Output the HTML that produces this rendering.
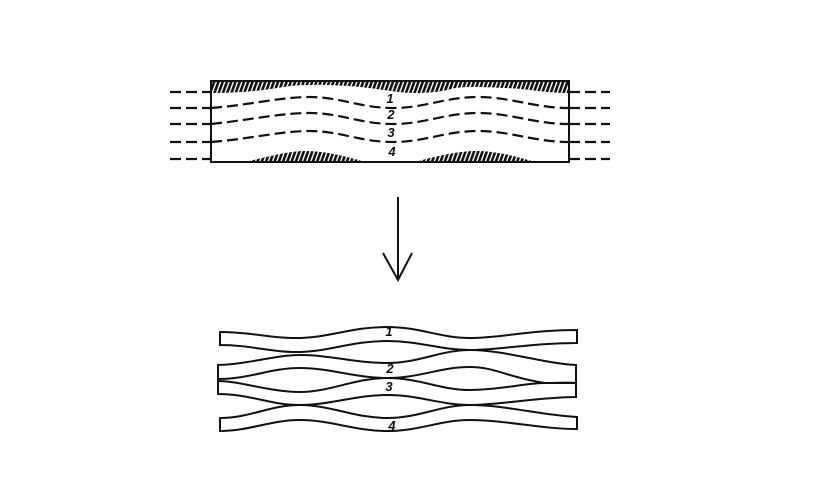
<!DOCTYPE html>
<html><head><style>body{margin:0;background:#fff}svg{display:block}</style></head><body>
<svg width="818" height="491" viewBox="0 0 818 491" xmlns="http://www.w3.org/2000/svg">
<defs>
<pattern id="h" width="4" height="10" patternUnits="userSpaceOnUse" patternTransform="rotate(20)">
<rect x="0" y="0" width="2.6" height="10" fill="#111"/></pattern>
</defs>
<g fill="url(#h)" stroke="none">
<path d="M211,81 L569,81 L569,93 C545,93 530,89 505,88 C485,87 470,86 455,88 C440,92 430,93 413,93 C400,93 380,89 360,87 C340,85 310,84 290,86 C270,89 250,93 211,93 Z"/>
<path d="M245,162 C270,156 290,151 305,151 C325,151 345,156 365,162 Z"/>
<path d="M415,162 C440,155 460,151 477,151 C495,151 515,156 535,162 Z"/>
</g>
<g fill="none" stroke="#111" stroke-width="2">
<rect x="211" y="81" width="358" height="81"/>
<line x1="398" y1="197" x2="398" y2="280"/>
<polyline points="383,253 398,280 412,253"/>
</g>
<g fill="none" stroke="#111" stroke-width="2.2" stroke-dasharray="11,5">
<path d="M170,92 L211,92"/><path d="M569,92 L610,92"/>
<path d="M170,108 L211,108"/><path d="M569,108 L610,108"/>
<path d="M170,124 L211,124"/><path d="M569,124 L610,124"/>
<path d="M170,142 L211,142"/><path d="M569,142 L610,142"/>
<path d="M170,159 L211,159"/><path d="M569,159 L610,159"/>
<path d="M211,108 C250,105 280,97 310,97 C340,97 360,108 393,108 C425,108 445,97 478,97 C510,97 535,108 569,108"/>
<path d="M211,124 C250,120 280,113 310,113 C340,113 360,124 393,124 C425,124 445,113 478,113 C510,113 535,124 569,124"/>
<path d="M211,142 C250,139 280,131 310,131 C340,131 360,142 393,142 C425,142 445,131 478,131 C510,131 535,142 569,142"/>
</g>
<g fill="none" stroke="#111" stroke-width="2">
<path d="M220,332 C250,332 270,338 295,338 C330,338 350,327 387,327 C420,327 440,338 470,338 C500,338 530,330 577,330 L577,343 C530,343 500,350 470,350 C440,350 420,341 387,341 C350,341 330,352 295,352 C270,352 250,345 220,345 Z"/>
<path d="M218,365 C250,364 275,355 300,355 C330,355 355,363 387,363 C420,363 440,350 470,350 C505,350 540,363 576,365 L576,383 C560,383 550,383 545,383 C510,378 495,367 470,367 C440,367 420,378 387,378 C355,378 330,368 300,368 C270,368 250,379 218,379 Z"/>
<path d="M218,381 C240,381 270,392 300,392 C330,392 355,378 387,378 C420,378 440,390 470,390 C500,390 525,383 545,383 C560,383 570,382 576,383 L576,397 C540,397 500,405 470,405 C440,405 420,395 387,395 C355,395 330,405 300,405 C270,405 250,394 218,394 Z"/>
<path d="M220,418 C250,418 270,405 300,405 C330,405 355,418 387,418 C420,418 440,405 470,405 C505,405 540,415 577,417 L577,429 C540,429 505,420 470,420 C440,420 420,431 387,431 C355,431 330,420 300,420 C270,420 250,431 220,431 Z"/>
</g>
<g font-family="Liberation Sans, sans-serif" font-style="italic" font-weight="bold" font-size="13" fill="#111" text-anchor="middle">
<text x="390" y="103">1</text><text x="391" y="119">2</text><text x="391" y="137">3</text><text x="392" y="156">4</text>
<text x="389" y="336">1</text><text x="390" y="373">2</text><text x="389" y="391">3</text><text x="392" y="430">4</text>
</g>
</svg>
</body></html>
